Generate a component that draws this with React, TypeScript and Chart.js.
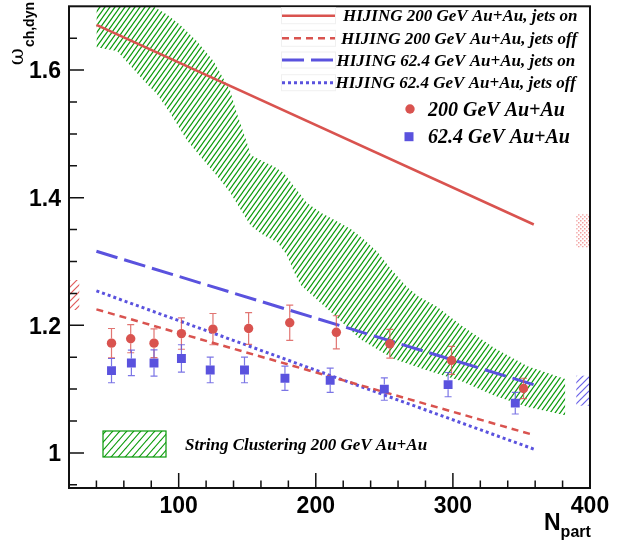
import React, { useEffect, useRef } from 'react';
import { Chart, registerables } from 'chart.js';
Chart.register(...registerables);

// ---- data ----
const npart200 = [51, 65, 82, 102, 125, 151, 181, 215, 254, 299, 351.5];
const omega200 = [1.172, 1.179, 1.172, 1.187, 1.194, 1.195, 1.204, 1.189, 1.171, 1.145, 1.101];
const err200 = [0.023, 0.022, 0.0225, 0.0245, 0.0245, 0.025, 0.0275, 0.026, 0.0225, 0.022, 0.016];

const npart62 = [51, 65.5, 82, 102, 123, 148, 177.5, 210.5, 250, 296.5, 345.5];
const omega62 = [1.129, 1.141, 1.141, 1.148, 1.13, 1.13, 1.117, 1.114, 1.1, 1.107, 1.078];
const err62 = [0.019, 0.02, 0.0205, 0.0215, 0.02, 0.02, 0.019, 0.019, 0.0175, 0.019, 0.017];

const hijingX = [40, 359];
const hijing200On = [1.671, 1.358];
const hijing200Off = [1.225, 1.028];
const hijing62On = [1.316, 1.107];
const hijing62Off = [1.254, 1.006];

const bandUpperX = [40, 79, 91.5, 101, 113.5, 125.5, 137.5, 142.5, 150, 152.5, 159.5, 169.5, 176.5, 184, 193.5, 203.5, 213, 225.5, 235, 245, 254.5, 266.5, 275, 288.5, 305.5, 330, 354.5, 382];
const bandUpperY = [1.72, 1.703, 1.687, 1.671, 1.645, 1.614, 1.568, 1.532, 1.485, 1.467, 1.459, 1.449, 1.439, 1.418, 1.392, 1.377, 1.366, 1.351, 1.335, 1.315, 1.289, 1.26, 1.245, 1.229, 1.201, 1.165, 1.136, 1.116];
const bandLowerX = [40, 55, 77, 84, 94, 106, 118, 128, 137.5, 145, 152.5, 162, 172, 179, 184, 189, 213, 232.5, 257, 281.5, 305.5, 330, 354.5, 382];
const bandLowerY = [1.636, 1.63, 1.578, 1.563, 1.532, 1.49, 1.459, 1.434, 1.408, 1.382, 1.356, 1.341, 1.33, 1.31, 1.284, 1.263, 1.217, 1.178, 1.147, 1.129, 1.113, 1.09, 1.072, 1.059];

// side boxes: [xmin, xmax, ymin, ymax]
const leftRedBox = [20, 27.5, 1.224, 1.271];
const rightBlueBox = [390, 400, 1.074, 1.121];
const rightRedBox = [390, 400, 1.322, 1.374];

const xMajorTicks = [100, 200, 300, 400];
const xMinorTicks = [40, 60, 80, 120, 140, 160, 180, 220, 240, 260, 280, 320, 340, 360, 380];
const yMajorTicks = [1.0, 1.2, 1.4, 1.6];
const yMinorTicks = [0.95, 1.05, 1.1, 1.15, 1.25, 1.3, 1.35, 1.45, 1.5, 1.55, 1.65];
const xTickLabels = ['100', '200', '300', '400'];
const yTickLabels = ['1', '1.2', '1.4', '1.6'];

const lineLegendLabels = [
  'HIJING 200 GeV Au+Au, jets on',
  'HIJING 200 GeV Au+Au, jets off',
  'HIJING 62.4 GeV Au+Au, jets on',
  'HIJING 62.4 GeV Au+Au, jets off',
];
const markerLegendLabels = ['200 GeV Au+Au', '62.4 GeV Au+Au'];
const bandLegendLabel = 'String Clustering 200 GeV Au+Au';

const RED = '#d9534f';
const BLUE = '#5a52de';
const GREEN = '#089a08';

const DASH_200_OFF = [7, 5];
const DASH_62_ON = [22, 7];
const DASH_62_OFF = [3, 3];

function hatch(color: string, w: number, h: number, lw: number): CanvasPattern | string {
  const c = document.createElement('canvas');
  c.width = w;
  c.height = h;
  const g = c.getContext('2d');
  if (!g) return color;
  g.strokeStyle = color;
  g.lineWidth = lw;
  for (const off of [-w, 0, w]) {
    g.beginPath();
    g.moveTo(off - w, 2 * h);
    g.lineTo(off + 2 * w, -h);
    g.stroke();
  }
  return g.createPattern(c, 'repeat') as CanvasPattern;
}

function dots(color: string): CanvasPattern | string {
  const c = document.createElement('canvas');
  c.width = 4;
  c.height = 4;
  const g = c.getContext('2d');
  if (!g) return color;
  g.fillStyle = color;
  g.fillRect(0, 0, 1.5, 1.5);
  g.fillRect(2, 2, 1.5, 1.5);
  return g.createPattern(c, 'repeat') as CanvasPattern;
}

const pts = (xs: number[], ys: number[]) => xs.map((x, i) => ({ x, y: ys[i] }));

export default function App() {
  const ref = useRef<HTMLCanvasElement | null>(null);

  useEffect(() => {
    const canvas = ref.current;
    if (!canvas) return;
    const bandPattern = hatch(GREEN, 5, 7, 1.25);
    const legendPattern = hatch(GREEN, 7, 8, 1.1);
    const redHatch = hatch('#e05a5a', 7, 7, 1.2);
    const blueHatch = hatch('#6a62e8', 7, 7, 1.2);
    const pinkDots = dots('#f2a0a0');

    const overlay = {
      id: 'overlay',
      afterDatasetsDraw(chart: any) {
        const ctx: CanvasRenderingContext2D = chart.ctx;
        const xs = chart.scales.x;
        const ys = chart.scales.y;
        const X = (v: number) => xs.getPixelForValue(v);
        const Y = (v: number) => ys.getPixelForValue(v);

        const box = (b: number[], fill: any) => {
          ctx.save();
          ctx.fillStyle = fill;
          ctx.fillRect(X(b[0]), Y(b[3]), X(b[1]) - X(b[0]), Y(b[2]) - Y(b[3]));
          ctx.restore();
        };
        box(leftRedBox, redHatch);
        box(rightBlueBox, blueHatch);
        box(rightRedBox, pinkDots);

        const errBars = (xv: number[], yv: number[], ev: number[], color: string, half: number) => {
          ctx.save();
          ctx.strokeStyle = color;
          ctx.globalAlpha = 0.8;
          ctx.lineWidth = 1.2;
          xv.forEach((x, i) => {
            const px = X(x);
            const py = Y(yv[i]);
            const pt = Y(yv[i] + ev[i]);
            const pb = Y(yv[i] - ev[i]);
            ctx.beginPath();
            ctx.moveTo(px, pt);
            ctx.lineTo(px, py - half);
            ctx.moveTo(px, py + half);
            ctx.lineTo(px, pb);
            ctx.moveTo(px - 3.5, pt);
            ctx.lineTo(px + 3.5, pt);
            ctx.moveTo(px - 3.5, pb);
            ctx.lineTo(px + 3.5, pb);
            ctx.stroke();
          });
          ctx.restore();
        };
        errBars(npart200, omega200, err200, RED, 4.7);
        errBars(npart62, omega62, err62, BLUE, 4.5);
      },
      afterDraw(chart: any) {
        const ctx: CanvasRenderingContext2D = chart.ctx;
        const xs = chart.scales.x;
        const ys = chart.scales.y;
        const a = chart.chartArea;
        ctx.save();
        ctx.strokeStyle = '#111';
        ctx.lineWidth = 2;
        ctx.strokeRect(a.left, a.top, a.right - a.left, a.bottom - a.top);
        ctx.lineWidth = 1.5;
        ctx.beginPath();
        xMajorTicks.forEach((v) => {
          const p = xs.getPixelForValue(v);
          ctx.moveTo(p, a.bottom);
          ctx.lineTo(p, a.bottom - 15);
        });
        xMinorTicks.forEach((v) => {
          const p = xs.getPixelForValue(v);
          ctx.moveTo(p, a.bottom);
          ctx.lineTo(p, a.bottom - 7.5);
        });
        yMajorTicks.forEach((v) => {
          const p = ys.getPixelForValue(v);
          ctx.moveTo(a.left, p);
          ctx.lineTo(a.left + 15, p);
        });
        yMinorTicks.forEach((v) => {
          const p = ys.getPixelForValue(v);
          ctx.moveTo(a.left, p);
          ctx.lineTo(a.left + 8, p);
        });
        ctx.stroke();

        ctx.fillStyle = '#000';
        ctx.font = 'bold 23px "Liberation Sans", Arial, sans-serif';
        ctx.textBaseline = 'alphabetic';
        ctx.textAlign = 'center';
        xMajorTicks.forEach((v, i) => {
          ctx.fillText(xTickLabels[i], xs.getPixelForValue(v), 513);
        });
        ctx.textAlign = 'right';
        yMajorTicks.forEach((v, i) => {
          ctx.fillText(yTickLabels[i], 61, ys.getPixelForValue(v) + 8.2);
        });

        ctx.textAlign = 'left';
        ctx.font = 'bold 23px "Liberation Sans", Arial, sans-serif';
        ctx.fillText('N', 544, 530);
        const nW = ctx.measureText('N').width;
        ctx.font = 'bold 16px "Liberation Sans", Arial, sans-serif';
        ctx.fillText('part', 544 + nW, 537);

        ctx.save();
        const omFont = '21px "DejaVu Serif", "Liberation Serif", serif';
        const subFont = 'bold 14px "Liberation Sans", Arial, sans-serif';
        ctx.font = omFont;
        const wOm = ctx.measureText('ω').width;
        ctx.font = subFont;
        const wSub = ctx.measureText('ch,dyn').width;
        const total = wOm + 1 + wSub;
        ctx.translate(23, 2 + total);
        ctx.rotate(-Math.PI / 2);
        ctx.font = omFont;
        ctx.fillText('ω', 0, 0);
        ctx.font = subFont;
        ctx.fillText('ch,dyn', wOm + 1, 11);
        ctx.restore();

        const entries = [
          { c: RED, d: [] as number[], w: 2.5, y: 15.7, tx: 343 },
          { c: RED, d: DASH_200_OFF, w: 2.5, y: 38.3, tx: 341 },
          { c: BLUE, d: DASH_62_ON, w: 3, y: 60, tx: 336.5 },
          { c: BLUE, d: DASH_62_OFF, w: 3, y: 82.7, tx: 335.5 },
        ];
        entries.forEach((e, i) => {
          ctx.strokeStyle = '#f0f0f0';
          ctx.lineWidth = 1;
          ctx.setLineDash([]);
          ctx.strokeRect(281.5, e.y - 8, 54, 16);
          ctx.strokeStyle = e.c;
          ctx.lineWidth = e.w;
          ctx.setLineDash(e.d);
          ctx.beginPath();
          ctx.moveTo(282, e.y);
          ctx.lineTo(335, e.y);
          ctx.stroke();
          ctx.setLineDash([]);
          ctx.fillStyle = '#000';
          ctx.font = 'italic bold 17px "Liberation Serif", "Times New Roman", serif';
          ctx.textAlign = 'left';
          ctx.fillText(lineLegendLabels[i], e.tx, e.y + 5.6);
        });
        ctx.fillStyle = RED;
        ctx.beginPath();
        ctx.arc(410, 109, 4.7, 0, Math.PI * 2);
        ctx.fill();
        ctx.fillStyle = BLUE;
        ctx.fillRect(404.5, 132.2, 9, 9);
        ctx.fillStyle = '#000';
        ctx.font = 'italic bold 20px "Liberation Serif", "Times New Roman", serif';
        ctx.fillText(markerLegendLabels[0], 428, 109 + 6.6);
        ctx.fillText(markerLegendLabels[1], 428, 136.7 + 6.6);

        ctx.fillStyle = legendPattern;
        ctx.fillRect(103, 431, 63, 26);
        ctx.strokeStyle = GREEN;
        ctx.lineWidth = 1.2;
        ctx.strokeRect(103, 431, 63, 26);
        ctx.fillStyle = '#000';
        ctx.font = 'italic bold 17px "Liberation Serif", "Times New Roman", serif';
        ctx.fillText(bandLegendLabel, 185, 449.6);
        ctx.restore();
      },
    };

    const chart = new Chart(canvas, {
      type: 'line',
      data: {
        datasets: [
          {
            data: pts(npart200, omega200),
            showLine: false,
            pointStyle: 'circle',
            pointRadius: 4.7,
            pointBackgroundColor: RED,
            pointBorderWidth: 0,
            order: 0,
          },
          {
            data: pts(npart62, omega62),
            showLine: false,
            pointStyle: 'rect',
            pointRadius: 6.3,
            pointBackgroundColor: BLUE,
            pointBorderWidth: 0,
            order: 0,
          },
          { data: pts(hijingX, hijing200On), borderColor: RED, borderWidth: 2.5, pointRadius: 0, fill: false, order: 1 },
          { data: pts(hijingX, hijing200Off), borderColor: RED, borderWidth: 2.5, borderDash: DASH_200_OFF, pointRadius: 0, fill: false, order: 1 },
          { data: pts(hijingX, hijing62On), borderColor: BLUE, borderWidth: 3, borderDash: DASH_62_ON, pointRadius: 0, fill: false, order: 1 },
          { data: pts(hijingX, hijing62Off), borderColor: BLUE, borderWidth: 3, borderDash: DASH_62_OFF, pointRadius: 0, fill: false, order: 1 },
          {
            data: pts(bandUpperX, bandUpperY),
            borderWidth: 0,
            borderColor: 'rgba(0,0,0,0)',
            pointRadius: 0,
            fill: '+1',
            backgroundColor: bandPattern as any,
            order: 3,
          },
          {
            data: pts(bandLowerX, bandLowerY),
            borderWidth: 0,
            borderColor: 'rgba(0,0,0,0)',
            pointRadius: 0,
            fill: false,
            order: 3,
          },
        ],
      },
      options: {
        responsive: false,
        animation: false,
        layout: { padding: { left: 0, right: 44, top: 1, bottom: 0 } },
        plugins: { legend: { display: false }, tooltip: { enabled: false } },
        elements: { line: { tension: 0 } },
        scales: {
          x: {
            type: 'linear',
            min: 20,
            max: 400,
            grid: { display: false },
            border: { display: false },
            ticks: { display: false },
            afterFit: (s: any) => {
              s.height = 58;
            },
          },
          y: {
            type: 'linear',
            min: 0.945,
            max: 1.7,
            grid: { display: false },
            border: { display: false },
            ticks: { display: false },
            afterFit: (s: any) => {
              s.width = 69;
            },
          },
        },
      },
      plugins: [overlay],
    });
    return () => chart.destroy();
  }, []);

  return (
    <div style={{ position: 'absolute', left: 0, top: 0, width: 634, height: 546, background: '#fff' }}>
      <canvas ref={ref} width={634} height={546} />
    </div>
  );
}
